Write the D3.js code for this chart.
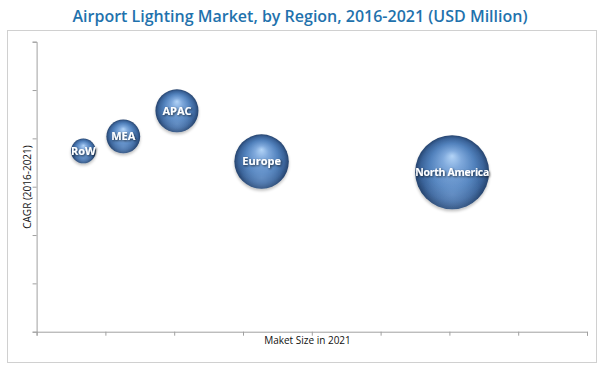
<!DOCTYPE html>
<html>
<head>
<meta charset="utf-8">
<script src="https://cdn.jsdelivr.net/npm/d3@7/dist/d3.min.js"></script>
<style>
  html, body { margin: 0; padding: 0; background: #fff; }
  svg { display: block; }
</style>
</head>
<body>
<svg id="chart" width="600" height="368"></svg>
<script>
// ---- data ----
const regions = ["RoW", "MEA", "APAC", "Europe", "North America"];
const marketSize = [0.68, 1.26, 2.04, 3.27, 6.04];   // x (relative units)
const cagr = [3.74, 4.04, 4.57, 3.52, 3.30];           // y (relative units)
const xTicks = [0, 1, 2, 3, 4, 5, 6, 7, 8];
const yTicks = [0, 1, 2, 3, 4, 5, 6];
const title = "Airport Lighting Market, by Region, 2016-2021 (USD Million)";
const xLabel = "Maket Size in 2021";
const yLabel = "CAGR (2016-2021)";

const data = regions.map((r, i) => ({ name: r, x: marketSize[i], y: cagr[i] }));

const svg = d3.select("#chart");

// outer frame
svg.append("rect").attr("x", 7.5).attr("y", 30.5).attr("width", 589).attr("height", 332)
  .attr("fill", "#fff").attr("stroke", "#d0d0d0").attr("stroke-width", 1);

const x = d3.scaleLinear().domain([0, 8]).range([36.6, 587]);
const y = d3.scaleLinear().domain([0, 6]).range([331.7, 41.7]);
const r = d3.scaleSqrt().domain([0, 8]).range([0, 42.6]);

// gradient
const defs = svg.append("defs");
const grad = defs.append("radialGradient").attr("id", "sphere")
  .attr("cx", "50%").attr("cy", "50%").attr("r", "50%")
  .attr("fx", "50%").attr("fy", "28%");
[[0, "#b3d4f7"], [0.25, "#7fa9dc"], [0.6, "#5282bd"], [0.85, "#3a6399"], [1, "#26446e"]]
  .forEach(([o, c]) => grad.append("stop").attr("offset", o).attr("stop-color", c));
const grad2 = defs.append("radialGradient").attr("id", "glow")
  .attr("cx", "50%").attr("cy", "80%").attr("r", "40%");
grad2.append("stop").attr("offset", 0).attr("stop-color", "#86aee0").attr("stop-opacity", 0.45);
grad2.append("stop").attr("offset", 1).attr("stop-color", "#86aee0").attr("stop-opacity", 0);
const shadow = defs.append("filter").attr("id", "shadow").attr("x", "-50%").attr("y", "-50%").attr("width", "200%").attr("height", "200%");
shadow.append("feGaussianBlur").attr("in", "SourceAlpha").attr("stdDeviation", 1.5).attr("result", "b");
shadow.append("feOffset").attr("in", "b").attr("dx", 0).attr("dy", 1.5).attr("result", "o");
shadow.append("feComponentTransfer").attr("in", "o").attr("result", "s")
  .append("feFuncA").attr("type", "linear").attr("slope", 0.25);
const m = shadow.append("feMerge");
m.append("feMergeNode").attr("in", "s");
m.append("feMergeNode").attr("in", "SourceGraphic");

const textShadow = defs.append("filter").attr("id", "tshadow").attr("x", "-20%").attr("y", "-50%").attr("width", "140%").attr("height", "200%");
textShadow.append("feGaussianBlur").attr("in", "SourceAlpha").attr("stdDeviation", 0.8).attr("result", "b");
textShadow.append("feOffset").attr("in", "b").attr("dx", 0.5).attr("dy", 0.5).attr("result", "o");
textShadow.append("feComponentTransfer").attr("in", "o").attr("result", "s")
  .append("feFuncA").attr("type", "linear").attr("slope", 0.7);
const m2 = textShadow.append("feMerge");
m2.append("feMergeNode").attr("in", "s");
m2.append("feMergeNode").attr("in", "SourceGraphic");

// axes
const axisColor = "#a0a0a0";
const xAxis = svg.append("g").attr("transform", `translate(0,${y(0)})`)
  .call(d3.axisBottom(x).tickValues(xTicks).tickSize(4).tickFormat(""));
const yAxis = svg.append("g").attr("transform", `translate(${x(0)},0)`)
  .call(d3.axisLeft(y).tickValues(yTicks).tickSize(4).tickFormat(""));
[xAxis, yAxis].forEach(g => {
  g.select(".domain").attr("stroke", axisColor);
  g.selectAll(".tick line").attr("stroke", axisColor);
});

// title
svg.append("text").attr("x", 300).attr("y", 21.5).attr("text-anchor", "middle")
  .attr("font-family", "'Open Sans', sans-serif").attr("font-size", 16).attr("font-weight", 600)
  .attr("fill", "#1f72ad").text(title);

// axis labels
svg.append("text").attr("x", 307.5).attr("y", 344).attr("text-anchor", "middle")
  .attr("font-family", "'Open Sans', sans-serif").attr("font-size", 10).attr("fill", "#111")
  .text(xLabel);
svg.append("text").attr("transform", `translate(31,187) rotate(-90)`).attr("text-anchor", "middle")
  .attr("font-family", "'Open Sans', sans-serif").attr("font-size", 10).attr("fill", "#111")
  .text(yLabel);

// bubbles
const g = svg.append("g");
const node = g.selectAll("g.b").data(data).join("g").attr("class", "b")
  .attr("transform", d => `translate(${x(d.x)},${y(d.y)})`);
node.append("circle").attr("r", d => r(d.x)).attr("fill", "url(#sphere)").attr("filter", "url(#shadow)");
node.append("circle").attr("r", d => r(d.x)).attr("fill", "url(#glow)");
node.append("text").attr("text-anchor", "middle").attr("dy", "0.35em")
  .attr("font-family", "'Open Sans', sans-serif").attr("font-weight", 700)
  .attr("font-size", d => d.name === "North America" ? 10.5 : 11)
  .attr("letter-spacing", d => d.name === "North America" ? -0.3 : 0)
  .attr("fill", "#fff").attr("filter", "url(#tshadow)")
  .text(d => d.name);
</script>
</body>
</html>
